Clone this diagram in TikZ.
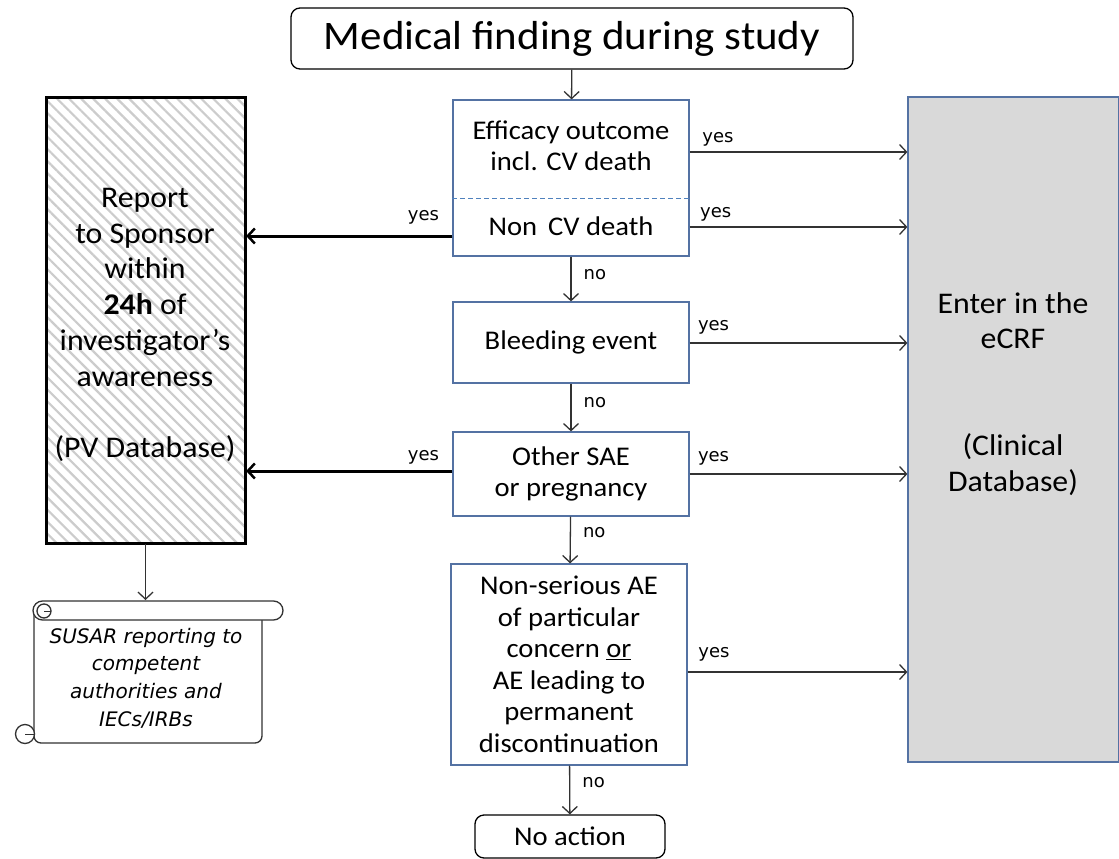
\documentclass[tikz,border=0pt]{standalone}
\usepackage{fontspec}
\setmainfont{Carlito}[FakeStretch=1.06]
\newfontfamily\lblfont{DejaVu Sans}
\usetikzlibrary{arrows.meta,patterns.meta}

\definecolor{boxblue}{RGB}{84,114,163}
\definecolor{dashblue}{RGB}{79,129,189}
\definecolor{dbgray}{RGB}{217,217,217}
\definecolor{linegray}{RGB}{50,50,50}

\tikzset{
  flowbox/.style={draw=boxblue, line width=1.2pt, minimum width=236pt, align=center,
    font=\fontsize{27}{31.5}\selectfont, inner sep=0pt},
  endbox/.style={draw=black, line width=1.3pt, rounded corners=9pt, align=center, inner sep=0pt},
  link/.style={draw=linegray, line width=1.3pt, -{Straight Barb[length=7pt,width=15pt,line width=1.3pt]}},
  report/.style={draw=black, line width=3pt, -{Straight Barb[length=7pt,width=15pt,line width=2.5pt]}},
  lbl/.style={font=\lblfont\fontsize{18}{20}\selectfont, inner sep=0pt},
  btext/.style={font=\fontsize{30}{35.7}\selectfont, align=center, inner sep=0pt},
}

\begin{document}
\begin{tikzpicture}[x=1pt,y=-1pt]
  \useasboundingbox (0,0) rectangle (1119,859);

  % top and bottom
  \node[endbox, minimum width=562pt, minimum height=61pt, font=\fontsize{40.5}{44}\selectfont] (finding) at (572,38.5) {Medical finding during study};
  \node[endbox, minimum width=190pt, minimum height=43pt, font=\fontsize{27}{31}\selectfont] (noaction) at (570,836.5) {No action};

  % middle column
  \node[flowbox, minimum height=156pt] (outcome) at (571,178) {};
  \node[flowbox, draw=none] (efficacy) at (571,146) {Efficacy outcome\\incl. CV death};
  \node[flowbox, draw=none] (noncv) at (571,226) {Non\,\ CV death};
  \draw[dashblue, line width=1pt, dash pattern=on 5pt off 3pt] (outcome.west |- 0,198) -- (outcome.east |- 0,198);
  \node[flowbox, minimum height=81pt] (bleeding) at (571,342.5) {Bleeding event};
  \node[flowbox, minimum height=84pt] (othersae) at (571,474) {Other SAE\\or pregnancy};
  \node[flowbox, minimum height=201pt] (nonserious) at (569,664.5)
    {Non-serious AE\\of particular\\concern \underline{or}\\AE leading to\\permanent\\discontinuation};

  % clinical database
  \node[draw=boxblue, fill=dbgray, line width=1.2pt, minimum width=211pt, minimum height=665pt, inner sep=0pt] (ecrf) at (1013.5,429.5) {};
  \node[btext] (ecrftext) at (1013,394) {Enter in the\\eCRF\\[71pt](Clinical\\Database)};

  % PV database
  \node[draw=black, line width=3pt, minimum width=199pt, minimum height=446pt, inner sep=0pt,
    pattern={Lines[angle=-45,distance=8.5pt,line width=2.2pt]}, pattern color=gray!40] (pvbox) at (145.5,320) {};
  \node[btext] (pvtext) at (145,325) {Report\\to Sponsor\\within\\\textbf{24h} of\\investigator’s\\awareness\\[35.7pt](PV Database)};

  % SUSAR scroll
  \draw[linegray, line width=1.3pt, rounded corners=7pt, fill=white] (34,614) -- (34,743) -| (262,614);
  \draw[linegray, line width=1.3pt, rounded corners=9.5pt, fill=white] (33,601) rectangle (283,620);
  \draw[linegray, line width=1.3pt, fill=white] (44,611) circle[radius=7pt];
  \draw[linegray, line width=1pt] (44,611) -- (51,611);
  \draw[linegray, line width=1.3pt, fill=white] (25,734) circle[radius=9.5pt];
  \draw[linegray, line width=1pt] (25,734) -- (34,734);
  \node[font=\lblfont\itshape\fontsize{20}{27.7}\selectfont, align=center, inner sep=0pt] (susar) at (146,678)
    {SUSAR reporting to\\competent\\authorities and\\IECs/IRBs};

  % down the middle
  \draw[link] (finding) -- (outcome);
  \draw[link] (outcome) -- node[lbl, right=12pt, pos=0.4] {no} (bleeding);
  \draw[link] (bleeding) -- node[lbl, right=12pt, pos=0.4] {no} (othersae);
  \draw[link] (othersae) -- node[lbl, right=12pt, pos=0.35] {no} (nonserious);
  \draw[link] (nonserious) -- node[lbl, right=12pt, pos=0.35] {no} (noaction);

  % to the eCRF
  \draw[link] (outcome.east |- 0,152) -- node[lbl, pos=0.13, above=5pt] {yes} (ecrf.west |- 0,152);
  \draw[link] (outcome.east |- 0,227) -- node[lbl, pos=0.12, above=5pt] {yes} (ecrf.west |- 0,227);
  \draw[link] (bleeding.east |- 0,343) -- node[lbl, pos=0.11, above=8pt] {yes} (ecrf.west |- 0,343);
  \draw[link] (othersae) -- node[lbl, pos=0.11, above=8pt] {yes} (ecrf.west |- othersae);
  \draw[link] (nonserious.east |- 0,672) -- node[lbl, pos=0.12, above=10pt] {yes} (ecrf.west |- 0,672);

  % to the sponsor
  \draw[report] (outcome.west |- 0,236) -- node[lbl, pos=0.14, above=10pt] {yes} (pvbox.east |- 0,236);
  \draw[report] (othersae.west |- 0,471) -- node[lbl, pos=0.14, above=5pt] {yes} (pvbox.east |- 0,471);
  \draw[link] (pvbox) -- (pvbox.south |- 0,600);
\end{tikzpicture}
\end{document}
